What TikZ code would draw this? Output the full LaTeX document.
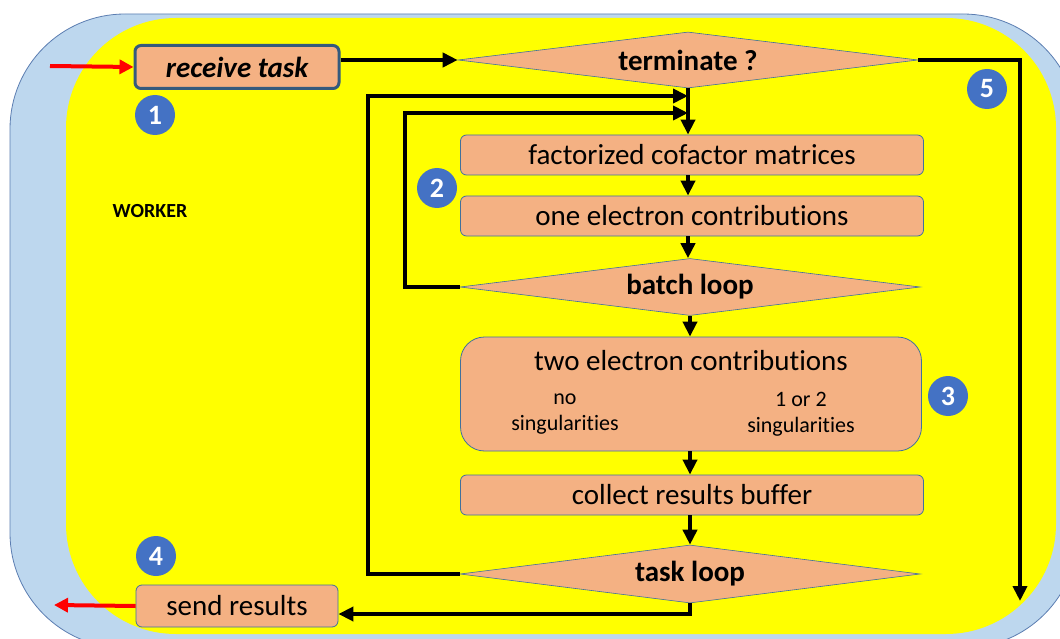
\documentclass[tikz,border=0pt]{standalone}
\usepackage{fontspec}
\setmainfont{Carlito}[Ligatures=NoCommon]
\usetikzlibrary{positioning, shapes.geometric, arrows.meta}
\definecolor{salmon}{HTML}{F4B183}
\definecolor{boxline}{HTML}{41719C}
\definecolor{badgeblue}{HTML}{4472C4}
\definecolor{outerblue}{HTML}{BDD7EE}
\definecolor{outerline}{HTML}{5B7DB1}
\definecolor{workeryellow}{HTML}{FFFF00}

\begin{document}
\begin{tikzpicture}[x=1pt, y=-1pt,
  flow/.style={line width=4.5pt, -{Triangle[length=15pt,width=14pt]}},
  inout/.style={line width=4pt, red, -{Triangle[length=14pt,width=14pt]}},
  stepbox/.style={draw=boxline, line width=0.8pt, fill=salmon, rounded corners=6pt,
    minimum width=463pt, minimum height=40pt, inner sep=0pt, font=\fontsize{29}{33}\selectfont},
  loopdiam/.style={diamond, draw=boxline, line width=0.6pt, fill=salmon, aspect=8,
    minimum width=460pt, minimum height=57pt, inner sep=0pt, font=\bfseries\fontsize{29}{33}\selectfont},
  badge/.style={circle, fill=badgeblue, text=white, minimum size=40pt, inner sep=0pt,
    font=\bfseries\fontsize{28}{32}\selectfont},
  ]
  \useasboundingbox (0,0) rectangle (1060,639);
  % background of the worker
  \begin{scope}
    \clip (0,0) rectangle (1060,639);
    \draw[fill=outerblue, draw=outerline, line width=0.8pt, rounded corners=115pt] (10,14) rectangle (1078,648);
    \draw[fill=workeryellow, draw=none, rounded corners=110pt] (66,18) rectangle (1056,634);
  \end{scope}

  \node[font=\bfseries\fontsize{20}{24}\selectfont] (worker) at (150,211) {WORKER};

  \node[stepbox, draw=boxline!80!black, line width=3pt, minimum width=204pt, minimum height=43pt,
    font=\bfseries\itshape\fontsize{29}{33}\selectfont] (receive) at (237,67) {receive task};
  \node[stepbox, minimum width=202pt, minimum height=42pt] (send) at (237,606) {send results};

  \node[loopdiam, minimum height=56pt] (terminate) at (688,60) {terminate ?};
  \node[stepbox] (cofac) at (692,155) {factorized cofactor matrices};
  \node[stepbox] (onee) at (692,216) {one electron contributions};
  \node[loopdiam] (batch) at (690,287) {batch loop};
  \node[stepbox, rounded corners=24pt, minimum width=461pt, minimum height=114pt] (twoe) at (691,394) {};
  \node (twoetitle) at (691,361) {\fontsize{29}{33}\selectfont two electron contributions};
  \node[align=center, font=\fontsize{22}{26}\selectfont] (nosing) at (565,414) {no\\singularities};
  \node[align=center, font=\fontsize{22}{26}\selectfont] (somesing) at (801,414) {1 or 2\\singularities};
  \node[stepbox] (collect) at (692,495) {collect results buffer};
  \node[loopdiam, minimum height=58pt] (task) at (690,574) {task loop};

  \node[badge] (b1) at (155,115) {1};
  \node[badge] (b2) at (437,188) {2};
  \node[badge] (b3) at (948,396) {3};
  \node[badge] (b4) at (156,556) {4};
  \node[badge] (b5) at (987,89) {5};

  \coordinate (redin) at (50,66);
  \coordinate (redout) at (54,605);
  \coordinate (join1) at (688,96);
  \coordinate (join2) at (688,113);
  \coordinate (outer) at (368,96);
  \coordinate (inner) at (405,113);
  \coordinate (retpt) at (690,614);
  \coordinate (exitpt) at (1020,601);

  \draw[inout] (redin) -- (receive.west);
  \draw[inout] (send.west) -- (redout);
  \draw[flow] (receive.east |- terminate.west) -- (terminate.west);
  \draw[flow] (terminate.south) -- (terminate.south |- cofac.north);
  \draw[flow] (cofac.south -| terminate.south) -- (terminate.south |- onee.north);
  \draw[flow] (onee.south -| terminate.south) -- (terminate.south |- batch.north);
  \draw[flow] (batch.south) -- (batch.south |- twoe.north);
  \draw[flow] (twoe.south -| batch.south) -- (batch.south |- collect.north);
  \draw[flow] (collect.south -| batch.south) -- (task.north);
  \draw[flow] (batch.west) -| (inner) -- (join2);
  \draw[flow] (task.west) -| (outer) -- (join1);
  \draw[flow] (task.south) -- (retpt) -- (retpt -| send.east);
  \draw[flow] (terminate.east) -| (exitpt);
\end{tikzpicture}
\end{document}
